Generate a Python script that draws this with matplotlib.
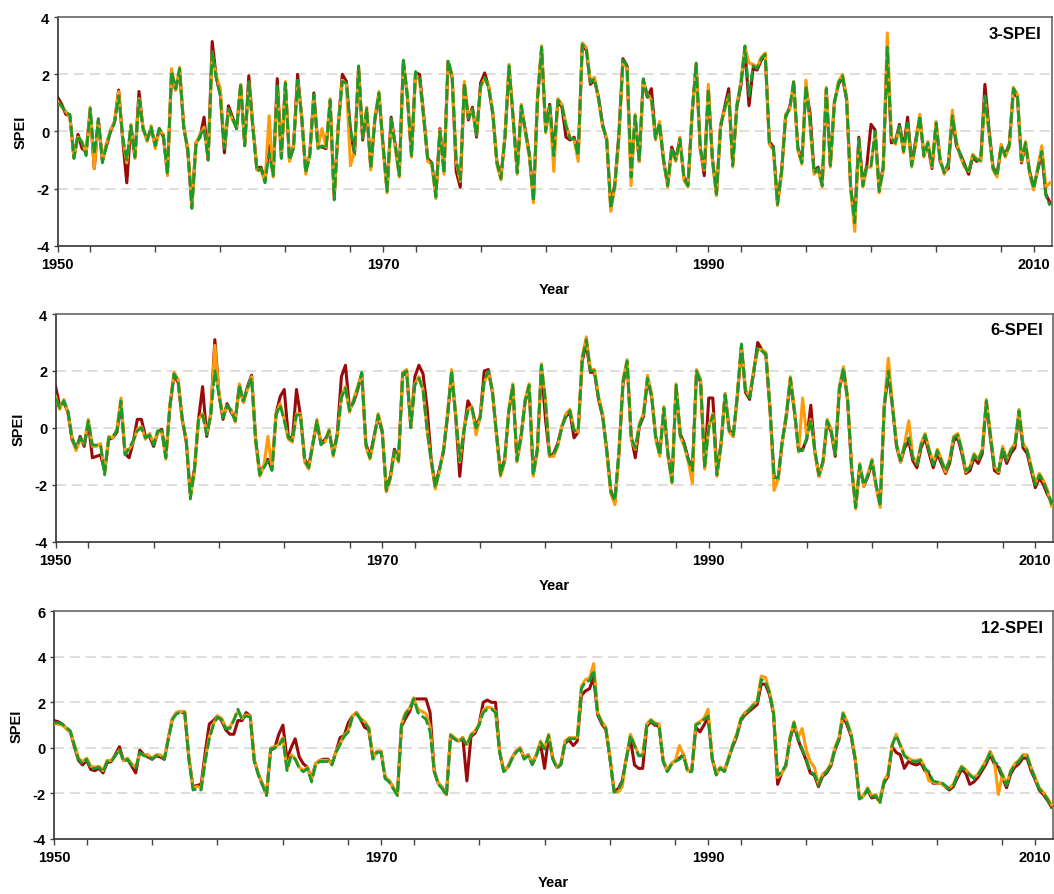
import numpy as np
import matplotlib
matplotlib.use("Agg")
import matplotlib.pyplot as plt
from matplotlib.ticker import MultipleLocator

plt.rcParams['font.family'] = ['Liberation Sans', 'DejaVu Sans']
plt.rcParams['axes.unicode_minus'] = False

# time axis: quarterly steps from 1950.0 to 2011.0
years = [1950 + 0.25 * i for i in range(245)]

# ---------- 3-SPEI ----------
spei3_green = [
 1.0,0.9,0.65,0.6,-0.95,-0.15,-0.4,-0.85,0.8,-0.8,
 0.45,-1.1,-0.5,0.0,0.3,1.25,-0.2,-1.0,0.2,-0.9,
 1.1,0.1,-0.3,0.15,-0.5,0.1,-0.15,-1.5,2.1,1.5,
 2.2,0.1,-0.6,-2.7,-0.5,-0.15,0.1,-1.0,2.8,1.85,
 1.25,-0.6,0.8,0.45,0.1,1.7,-0.5,1.75,0.1,-1.4,
 -1.3,-1.8,-0.75,-1.55,1.6,-0.95,1.7,-1.0,-0.6,1.8,
 0.55,-1.45,-0.85,1.3,-0.6,-0.5,-0.6,1.1,-2.4,0.2,
 1.75,1.7,0.1,-0.75,2.3,-0.25,0.8,-1.3,0.45,1.35,
 -0.5,-2.1,0.45,-0.5,-1.55,2.5,1.25,-0.85,2.1,1.85,
 0.45,-1.0,-1.1,-2.3,0.0,-1.45,2.5,1.95,-1.0,-1.7,
 1.7,0.45,0.8,-0.15,1.6,1.9,1.5,0.65,-1.1,-1.65,
 -0.15,2.3,0.45,-1.45,0.9,0.0,-0.85,-2.45,1.2,2.95,
 0.0,0.9,-0.85,1.1,0.9,0.2,-0.25,-0.25,-0.85,3.05,
 2.9,1.7,1.85,1.15,0.2,-0.25,-2.7,-1.9,-0.2,2.5,
 2.3,-1.6,0.55,-1.0,1.85,1.25,1.15,-0.25,0.3,-1.0,
 -1.9,-0.6,-1.0,-0.25,-1.65,-1.9,0.65,2.4,-0.6,-1.3,
 1.5,-1.0,-2.2,0.2,0.8,1.3,-1.2,0.9,1.7,3.0,
 1.25,2.3,2.2,2.55,2.7,-0.4,-0.6,-2.55,-1.45,0.55,
 0.8,1.8,-0.6,-1.1,1.6,0.3,-1.45,-1.3,-1.9,1.5,
 -1.2,1.0,1.7,1.95,1.15,-2.0,-3.2,-0.25,-1.9,-1.2,
 -1.2,0.0,-2.1,-1.3,2.95,-0.25,-0.4,0.2,-0.7,0.3,
 -1.2,-0.4,0.55,-0.85,-0.4,-1.2,0.3,-1.0,-1.45,-1.1,
 0.55,-0.4,-0.85,-1.2,-1.45,-0.85,-1.0,-1.0,1.25,0.0,
 -1.3,-1.55,-0.5,-0.85,-0.5,1.5,1.25,-1.0,-0.4,-1.45,
 -2.0,-1.3,-0.7,-2.25,-2.6]
spei3_red = [
 1.2,0.95,0.6,0.55,-0.9,-0.1,-0.6,-0.7,0.7,-1.3,
 0.4,-1.0,-0.5,0.0,0.35,1.45,-0.3,-1.8,0.2,-0.9,
 1.4,0.1,-0.3,0.1,-0.5,0.1,-0.2,-1.45,2.0,1.45,
 2.1,0.2,-0.7,-2.6,-0.4,-0.2,0.5,-1.0,3.15,1.9,
 1.3,-0.75,0.9,0.5,0.1,1.6,-0.5,1.95,0.2,-1.3,
 -1.25,-1.7,-0.5,-1.5,1.85,-0.9,1.65,-1.0,-0.5,2.0,
 0.5,-1.4,-0.8,1.35,-0.5,-0.55,-0.6,1.05,-2.3,0.2,
 2.0,1.75,0.0,-0.8,2.25,-0.3,0.7,-1.25,0.4,1.3,
 -0.45,-2.05,0.5,-0.45,-1.5,2.45,1.2,-0.8,2.05,2.0,
 0.6,-0.95,-1.1,-2.2,0.1,-1.4,2.45,1.9,-1.4,-1.95,
 1.65,0.4,0.85,-0.2,1.7,2.05,1.55,0.6,-1.05,-1.6,
 -0.2,2.25,0.5,-1.4,0.85,0.05,-0.8,-2.4,1.15,2.9,
 0.1,0.95,-0.8,1.05,0.85,-0.2,-0.3,-0.2,-0.8,3.0,
 2.85,1.65,1.8,1.2,0.25,-0.3,-2.6,-1.85,-0.1,2.55,
 2.3,-1.55,0.5,-1.05,1.8,1.2,1.5,-0.2,0.25,-1.05,
 -1.85,-0.55,-0.95,-0.3,-1.6,-1.85,0.6,2.35,-0.55,-1.55,
 1.45,-0.95,-2.2,0.15,0.85,1.5,-1.15,0.85,1.6,2.9,
 0.9,2.2,2.15,2.5,2.65,-0.35,-0.55,-2.5,-1.4,0.5,
 0.85,1.6,-0.55,-1.05,1.55,0.65,-1.4,-1.25,-1.85,1.45,
 -1.15,1.05,1.65,1.9,1.1,-1.95,-3.1,-0.2,-1.85,-1.15,
 0.25,0.05,-2.0,-1.25,2.9,-0.4,-0.35,0.25,-0.6,0.5,
 -1.15,-0.3,0.5,-0.8,-0.5,-1.3,0.25,-1.05,-1.4,-1.3,
 0.5,-0.5,-0.8,-1.15,-1.5,-0.9,-1.05,-0.95,1.65,0.1,
 -1.25,-1.5,-0.55,-0.8,-0.45,1.4,1.2,-1.1,-0.45,-1.4,
 -1.95,-1.35,-0.75,-2.2,-2.5]
spei3_orange = [
 1.05,0.85,0.7,0.5,-0.9,-0.2,-0.35,-0.8,0.85,-1.3,
 0.4,-1.0,-0.4,0.05,0.35,1.4,-0.25,-1.1,0.25,-0.95,
 1.15,0.15,-0.35,0.2,-0.6,0.05,-0.1,-1.55,2.2,1.45,
 2.25,0.15,-0.55,-2.65,-0.45,-0.1,0.15,-0.95,2.7,1.95,
 1.5,-0.55,0.75,0.4,0.15,1.65,-0.45,1.7,0.15,-1.35,
 -1.35,-1.75,0.55,-1.6,1.55,-0.9,1.75,-1.05,-0.55,1.75,
 0.6,-1.5,-0.8,1.25,-0.55,0.1,-0.55,1.15,-2.35,0.25,
 1.8,1.65,-1.2,-0.7,2.25,-0.2,0.85,-1.35,0.5,1.4,
 -0.55,-2.15,0.4,-0.55,-1.6,2.45,1.3,-0.9,2.0,1.8,
 0.5,-1.05,-1.15,-2.35,0.05,-1.5,2.45,2.0,-1.05,-1.75,
 1.75,0.5,0.75,-0.1,1.55,1.85,1.6,0.7,-1.15,-1.7,
 -0.1,2.35,0.4,-1.5,0.95,-0.05,-0.9,-2.5,1.25,3.0,
 -0.05,0.85,-1.4,1.15,0.95,0.25,-0.2,-0.3,-1.05,3.1,
 2.95,1.75,1.9,1.1,0.15,-0.2,-2.8,-1.95,-0.25,2.45,
 2.2,-1.9,0.6,-1.05,1.8,1.3,1.1,-0.3,0.35,-0.95,
 -1.95,-0.65,-1.05,-0.2,-1.7,-1.95,0.7,2.3,-0.65,-1.35,
 1.65,-1.05,-2.25,0.25,0.75,1.25,-1.25,0.95,1.75,2.95,
 2.4,2.35,2.25,2.6,2.75,-0.45,-0.65,-2.6,-1.5,0.6,
 0.75,1.75,-0.65,-1.15,1.8,0.25,-1.5,-1.35,-1.95,1.55,
 -1.25,0.95,1.75,2.0,1.2,-2.05,-3.5,-0.3,-1.95,-1.25,
 -1.25,-0.05,-2.15,-1.35,3.45,-0.2,-0.45,0.15,-0.75,0.25,
 -1.25,-0.45,0.6,-0.9,-0.35,-1.25,0.35,-0.95,-1.5,-1.15,
 0.75,-0.35,-0.9,-1.25,-1.4,-0.8,-0.95,-1.05,1.2,-0.05,
 -1.35,-1.6,-0.45,-0.9,-0.55,1.55,1.3,-1.05,-0.35,-1.5,
 -2.05,-1.25,-0.5,-1.95,-1.8]

# ---------- 6-SPEI ----------
spei6_green = [
 1.05,0.7,0.95,0.6,-0.35,-0.7,-0.35,-0.6,0.25,-0.6,
 -0.6,-0.6,-1.65,-0.35,-0.3,-0.1,0.95,-0.95,-0.7,-0.45,
 -0.1,0.0,-0.35,-0.25,-0.6,-0.1,-0.1,-1.05,0.8,1.9,
 1.65,0.35,-0.45,-2.5,-1.5,0.35,0.45,-0.25,0.45,2.0,
 1.15,0.35,0.8,0.6,0.25,1.5,0.95,1.4,1.75,-0.45,
 -1.65,-1.4,-1.15,-1.5,0.45,0.8,0.25,-0.35,-0.45,0.45,
 0.45,-1.15,-1.4,-0.6,0.25,-0.6,-0.45,-0.1,-0.95,-0.25,
 1.05,1.4,0.6,0.95,1.4,1.95,-0.6,-1.05,-0.35,0.45,
 -0.1,-2.2,-1.75,-0.8,-1.15,1.9,2.0,0.0,1.5,1.75,
 1.3,-0.1,-1.15,-2.1,-1.5,-0.8,0.45,2.0,0.45,-1.15,
 -0.1,0.6,0.7,0.0,0.35,1.65,2.0,1.3,-0.25,-1.65,
 -1.15,0.6,1.5,-1.15,-0.35,0.95,1.5,-1.65,-0.8,2.2,
 0.95,-0.95,-0.95,-0.6,0.0,0.45,0.6,-0.1,-0.1,2.45,
 3.1,2.0,2.0,1.05,0.45,-0.8,-2.25,-2.55,-0.8,1.65,
 2.35,-0.35,-0.7,0.1,0.45,1.75,1.15,-0.35,-0.95,0.7,
 -0.95,-1.9,1.5,-0.25,-0.6,-1.15,-1.5,2.0,1.65,-1.4,
 0.0,0.45,-1.65,-0.6,1.15,-0.1,-0.25,1.15,2.95,1.3,
 1.05,2.0,2.8,2.7,2.6,0.7,-1.75,-1.75,-0.45,0.45,
 1.75,0.6,-0.8,-0.8,-0.35,0.25,-0.8,-1.65,-1.15,0.25,
 -0.1,-0.95,1.4,2.1,1.05,-1.4,-2.8,-1.3,-2.0,-1.65,
 -1.15,-2.0,-2.75,0.8,2.0,0.8,-0.6,-1.15,-0.6,-0.35,
 -1.05,-1.3,-0.6,-0.25,-0.8,-1.3,-0.8,-1.15,-1.5,-1.15,
 -0.35,-0.25,-0.8,-1.5,-1.4,-0.95,-1.15,-0.8,0.95,-0.25,
 -1.4,-1.5,-0.7,-1.15,-0.8,-0.6,0.6,-0.6,-0.8,-1.4,
 -2.0,-1.65,-1.9,-2.25,-2.7]
spei6_red = [
 1.45,0.75,0.9,0.55,-0.4,-0.75,-0.3,-0.65,0.2,-1.05,
 -1.0,-0.95,-1.5,-0.4,-0.35,-0.15,0.85,-0.9,-1.05,-0.5,
 0.3,0.3,-0.3,-0.3,-0.65,-0.15,-0.05,-1.0,0.75,1.85,
 1.6,0.3,-0.5,-2.3,-1.45,0.3,1.45,-0.3,0.5,3.1,
 1.2,0.3,0.85,0.55,0.3,1.45,0.9,1.45,1.85,-0.4,
 -1.6,-1.35,-1.1,-1.45,0.5,1.1,1.35,-0.3,-0.4,1.35,
 0.4,-1.1,-1.35,-0.55,0.2,-0.55,-0.4,-0.15,-0.9,-0.2,
 1.8,2.2,0.65,0.9,1.35,1.9,-0.55,-1.0,-0.3,0.4,
 -0.15,-2.15,-1.7,-0.75,-1.1,1.85,1.95,0.05,1.8,2.2,
 1.9,0.7,-1.1,-2.05,-1.45,-0.85,0.4,1.95,0.4,-1.7,
 -0.15,0.95,0.65,0.05,0.4,2.0,2.05,1.25,-0.2,-1.6,
 -1.1,0.55,1.45,-1.1,-0.3,0.9,1.45,-1.6,-0.75,2.15,
 0.3,-1.0,-0.9,-0.55,0.05,0.4,0.55,-0.35,-0.15,2.35,
 2.95,1.95,1.95,1.0,0.4,-0.75,-2.2,-2.6,-0.9,1.55,
 2.3,-0.3,-1.05,0.05,0.4,1.7,1.1,-0.3,-0.9,0.65,
 -0.9,-1.85,1.45,-0.2,-0.55,-1.1,-1.45,1.95,1.6,-1.35,
 1.05,1.05,-1.6,-0.55,1.2,-0.05,-0.3,1.1,2.85,1.25,
 1.0,1.95,3.0,2.75,2.55,0.65,-1.7,-1.8,-0.5,0.4,
 1.7,0.55,-0.75,-0.75,-0.4,0.8,-0.85,-1.7,-1.2,0.2,
 -0.15,-1.0,1.35,2.05,1.0,-1.45,-2.75,-1.35,-2.05,-1.7,
 -1.2,-2.05,-2.7,0.75,1.95,0.75,-0.65,-1.2,-0.7,-0.45,
 -1.15,-1.4,-0.7,-0.35,-0.9,-1.4,-0.9,-1.25,-1.6,-1.25,
 -0.45,-0.35,-0.9,-1.6,-1.5,-1.05,-1.25,-0.9,0.9,-0.35,
 -1.5,-1.6,-0.8,-1.25,-0.9,-0.7,0.5,-0.7,-0.9,-1.5,
 -2.1,-1.75,-2.0,-2.35,-2.6]
spei6_orange = [
 1.1,0.65,1.0,0.55,-0.3,-0.8,-0.4,-0.55,0.3,-0.65,
 -0.65,-0.55,-1.6,-0.3,-0.35,-0.05,1.05,-0.9,-0.75,-0.5,
 -0.05,0.05,-0.4,-0.2,-0.55,-0.15,-0.15,-1.1,0.85,1.95,
 1.7,0.3,-0.4,-2.45,-1.55,0.3,0.5,-0.2,0.5,2.9,
 1.25,0.4,0.75,0.65,0.2,1.55,0.9,1.35,1.8,-0.5,
 -1.7,-1.35,-0.3,-1.45,0.5,0.85,0.3,-0.4,-0.5,0.5,
 0.5,-1.2,-1.45,-0.55,0.3,-0.55,-0.5,-0.05,-1.0,-0.3,
 1.1,1.45,0.55,1.0,1.45,1.9,-0.65,-1.1,-0.4,0.5,
 -0.05,-2.25,-1.8,-0.85,-1.2,1.95,2.05,0.05,1.55,1.8,
 1.35,-0.05,-1.2,-2.15,-1.55,-0.75,0.5,2.05,0.5,-1.2,
 -0.05,0.65,0.75,-0.25,0.4,1.6,1.95,1.35,-0.3,-1.7,
 -1.2,0.65,1.55,-1.2,-0.4,1.0,1.55,-1.7,-0.85,2.25,
 1.0,-1.0,-1.0,-0.65,0.05,0.5,0.65,-0.05,-0.15,2.5,
 3.2,2.05,2.05,1.1,0.5,-0.85,-2.3,-2.7,-0.85,1.7,
 2.4,-0.4,-0.75,0.15,0.5,1.85,1.2,-0.4,-1.0,0.75,
 -1.0,-1.95,1.55,-0.3,-0.65,-1.2,-1.95,2.05,1.7,-1.45,
 0.05,0.5,-1.7,-0.65,1.2,-0.15,-0.3,1.2,2.9,1.35,
 1.1,2.05,2.75,2.75,2.65,0.75,-2.2,-1.8,-0.5,0.5,
 1.8,0.65,-0.85,1.05,-0.3,0.3,-0.85,-1.7,-1.2,0.3,
 -0.05,-0.9,1.45,2.15,1.1,-1.35,-2.85,-1.25,-2.05,-1.6,
 -1.1,-2.05,-2.8,0.85,2.45,0.85,-0.55,-1.2,-0.55,0.25,
 -1.0,-1.25,-0.55,-0.2,-0.75,-1.25,-0.75,-1.1,-1.55,-1.1,
 -0.3,-0.2,-0.75,-1.55,-1.35,-0.9,-1.1,-0.75,1.0,-0.2,
 -1.35,-1.55,-0.65,-1.1,-0.75,-0.55,0.65,-0.55,-0.75,-1.35,
 -1.95,-1.6,-1.85,-2.2,-2.75]

# ---------- 12-SPEI ----------
spei12_green = [
 1.1,1.1,1.05,0.9,0.75,0.1,-0.5,-0.7,-0.5,-0.9,
 -0.9,-0.85,-1.05,-0.6,-0.6,-0.35,-0.05,-0.6,-0.5,-0.75,
 -0.9,-0.2,-0.35,-0.35,-0.5,-0.35,-0.35,-0.5,0.4,1.25,
 1.5,1.55,1.55,-0.5,-1.85,-1.8,-1.85,-0.6,0.4,1.0,
 1.35,1.25,0.85,0.85,1.2,1.7,1.25,1.4,1.35,-0.6,
 -1.2,-1.65,-2.1,-0.05,0.0,0.1,0.4,-1.0,-0.35,-0.5,
 -0.9,-1.05,-0.9,-1.5,-0.75,-0.6,-0.6,-0.6,-0.75,-0.2,
 0.15,0.5,0.7,1.35,1.5,1.25,1.1,0.85,-0.5,-0.2,
 -0.2,-1.35,-1.5,-1.8,-2.1,1.0,1.5,1.7,2.15,1.55,
 1.4,1.25,0.7,-1.05,-1.6,-1.8,-2.1,0.55,0.4,0.25,
 0.4,0.1,0.55,0.7,1.0,1.55,1.7,1.7,1.55,-0.2,
 -1.05,-0.9,-0.5,-0.2,-0.05,-0.5,-0.35,-0.75,-0.35,0.25,
 -0.05,0.55,-0.5,-0.9,-0.75,0.25,0.4,0.4,0.4,2.6,
 2.9,2.95,3.4,1.5,1.1,0.85,-0.5,-1.95,-1.85,-1.5,
 -0.5,0.55,0.1,-0.35,-0.35,1.0,1.2,1.05,1.0,-0.6,
 -1.05,-0.75,-0.6,-0.5,-0.35,-1.05,-1.05,1.0,1.1,1.25,
 1.4,-0.5,-1.2,-0.9,-1.05,-0.5,0.1,0.55,1.25,1.5,
 1.65,1.85,2.0,3.0,2.9,2.45,1.55,-1.2,-1.05,-0.75,
 0.4,1.1,0.4,-0.05,-0.5,-1.05,-1.15,-1.65,-1.2,-1.05,
 -0.75,-0.05,0.4,1.5,1.1,0.55,-0.5,-2.25,-2.15,-1.8,
 -2.15,-2.1,-2.45,-1.5,-1.2,0.1,0.55,0.1,-0.35,-0.5,
 -0.6,-0.6,-0.55,-0.9,-1.05,-1.45,-1.5,-1.5,-1.65,-1.8,
 -1.65,-1.2,-0.85,-1.0,-1.2,-1.35,-1.2,-0.9,-0.6,-0.2,
 -0.6,-0.75,-1.2,-1.65,-1.05,-0.75,-0.6,-0.35,-0.35,-0.9,
 -1.35,-1.8,-2.0,-2.25,-2.65]
spei12_red = [
 1.2,1.15,1.05,0.85,0.7,0.05,-0.55,-0.75,-0.55,-0.95,
 -1.0,-0.9,-1.1,-0.65,-0.6,-0.3,0.05,-0.55,-0.5,-0.8,
 -1.1,-0.1,-0.3,-0.4,-0.5,-0.35,-0.4,-0.5,0.45,1.3,
 1.55,1.6,1.5,-0.45,-1.7,-1.65,-1.6,-0.2,1.05,1.2,
 1.4,1.2,0.8,0.6,0.6,1.2,1.2,1.55,1.4,-0.55,
 -1.15,-1.6,-2.0,-0.1,0.0,0.6,1.0,-0.5,0.0,0.4,
 -0.4,-0.7,-0.85,-1.35,-0.7,-0.55,-0.5,-0.5,-0.7,-0.15,
 0.45,0.55,1.1,1.4,1.55,1.25,0.9,0.8,-0.45,-0.15,
 -0.15,-1.3,-1.45,-1.75,-2.05,0.95,1.3,1.6,2.15,2.15,
 2.15,2.15,1.55,-1.0,-1.55,-1.75,-2.05,0.5,0.4,0.3,
 0.45,-1.45,0.5,0.65,1.05,2.0,2.1,2.0,2.0,-0.15,
 -1.0,-0.85,-0.45,-0.15,0.0,-0.45,-0.3,-0.7,-0.3,0.2,
 -0.9,0.5,-0.45,-0.85,-0.7,0.2,0.35,0.1,0.3,2.3,
 2.5,2.6,3.1,1.45,1.05,0.8,-0.45,-1.9,-1.8,-1.45,
 -0.45,0.4,-0.75,-0.9,-0.9,0.95,1.15,1.0,0.95,-0.55,
 -1.0,-0.7,-0.55,-0.45,-0.3,-1.0,-1.0,0.9,0.7,1.0,
 1.35,-0.45,-1.15,-0.85,-1.0,-0.45,0.05,0.5,1.2,1.45,
 1.6,1.75,1.9,2.8,2.8,2.35,1.5,-1.6,-1.1,-0.8,
 0.35,1.0,0.35,-0.1,-0.55,-1.1,-1.2,-1.7,-1.25,-1.1,
 -0.8,-0.1,0.35,1.4,1.0,0.5,-0.55,-2.2,-2.1,-1.85,
 -2.2,-2.15,-2.3,-1.55,-1.25,0.05,-0.2,-0.3,-0.9,-0.6,
 -0.7,-0.75,-0.65,-1.0,-1.15,-1.55,-1.55,-1.55,-1.7,-1.85,
 -1.7,-1.3,-0.95,-1.1,-1.6,-1.5,-1.3,-1.0,-0.7,-0.3,
 -0.7,-0.85,-1.3,-1.75,-1.15,-0.85,-0.7,-0.45,-0.45,-1.0,
 -1.4,-1.85,-2.05,-2.3,-2.6]
spei12_orange = [
 1.05,1.05,1.0,0.85,0.7,0.15,-0.45,-0.6,-0.45,-0.8,
 -0.85,-0.8,-1.0,-0.55,-0.55,-0.35,-0.1,-0.55,-0.45,-0.7,
 -0.85,-0.25,-0.3,-0.3,-0.45,-0.3,-0.3,-0.45,0.45,1.3,
 1.55,1.6,1.6,-0.45,-1.75,-1.7,-1.75,-0.5,0.5,1.05,
 1.4,1.3,0.9,0.9,1.25,1.6,1.3,1.45,1.4,-0.55,
 -1.15,-1.6,-2.05,0.0,0.05,0.15,0.45,-0.95,-0.3,-0.45,
 -0.85,-1.0,-0.85,-1.4,-0.7,-0.55,-0.55,-0.55,-0.7,-0.15,
 0.2,0.55,0.75,1.4,1.55,1.3,1.15,0.9,-0.45,-0.15,
 -0.15,-1.3,-1.45,-1.75,-2.05,1.05,1.55,1.75,2.2,1.7,
 1.6,1.5,0.9,-1.0,-1.55,-1.75,-2.05,0.6,0.45,0.3,
 0.45,0.15,0.6,0.75,1.05,1.65,1.8,1.75,1.6,-0.15,
 -1.0,-0.85,-0.45,-0.15,0.0,-0.45,-0.3,-0.7,-0.3,0.3,
 0.0,0.6,-0.45,-0.85,-0.7,0.3,0.45,0.45,0.45,2.7,
 3.0,3.05,3.7,1.55,1.15,0.9,-0.45,-1.9,-1.95,-1.7,
 -0.45,0.6,0.15,-0.3,-0.3,1.05,1.25,1.1,1.05,-0.55,
 -1.0,-0.7,-0.55,0.1,-0.3,-1.0,-1.0,1.05,1.15,1.3,
 1.7,-0.45,-1.15,-0.85,-1.0,-0.45,0.15,0.6,1.3,1.55,
 1.7,1.9,2.05,3.15,3.1,2.5,1.6,-1.3,-1.1,-0.8,
 0.45,1.15,0.45,0.85,-0.1,-0.6,-0.85,-1.6,-1.15,-1.0,
 -0.7,0.0,0.45,1.55,1.15,0.6,-0.45,-2.2,-2.1,-1.75,
 -2.1,-2.05,-2.4,-1.45,-1.15,0.15,0.6,0.15,-0.3,-0.45,
 -0.55,-0.55,-0.5,-0.85,-1.45,-1.5,-1.55,-1.55,-1.7,-1.75,
 -1.6,-1.15,-0.8,-0.95,-1.15,-1.3,-1.15,-0.85,-0.55,-0.15,
 -0.55,-2.05,-1.15,-1.6,-1.0,-0.7,-0.55,-0.3,-0.3,-0.85,
 -1.3,-1.75,-1.95,-2.2,-2.5]

panels = [
    ("3-SPEI", spei3_red, spei3_orange, spei3_green, (-4, 4), [-4, -2, 0, 2, 4]),
    ("6-SPEI", spei6_red, spei6_orange, spei6_green, (-4, 4), [-4, -2, 0, 2, 4]),
    ("12-SPEI", spei12_red, spei12_orange, spei12_green, (-4, 6), [-4, -2, 0, 2, 4, 6]),
]
rects = [
    [0.0547, 0.7244, 0.9430, 0.2552],
    [0.0528, 0.3936, 0.9465, 0.2544],
    [0.0512, 0.0615, 0.9480, 0.2544],
]
xticks_major = [1950, 1970, 1990, 2010]

fig = plt.figure(figsize=(10.54, 8.95), dpi=100)
for (title, red, orange, green, ylim, yt), rect in zip(panels, rects):
    ax = fig.add_axes(rect)
    for yv in yt[1:-1]:
        ax.axhline(yv, color="#d9d9d3", lw=1.2, ls=(0, (6, 3.5)), zorder=0)
    ax.plot(years, red, color="#9b0a0a", lw=2.2, zorder=2)
    ax.plot(years, orange, color="#ff9a0a", lw=2.2, zorder=3)
    ax.plot(years, green, color="#1a9a2a", lw=2.0, ls=(0, (4, 1.2)), zorder=4)
    ax.set_xlim(1950, 2011.1)
    ax.set_ylim(*ylim)
    ax.set_xticks(xticks_major)
    ax.xaxis.set_minor_locator(MultipleLocator(4))
    ax.set_yticks(yt)
    ax.tick_params(axis="both", which="both", direction="out", color="#444444",
                   labelsize=10.5, width=1.0)
    ax.tick_params(axis="x", which="major", length=4, pad=4)
    ax.tick_params(axis="x", which="minor", length=4)
    ax.tick_params(axis="y", which="major", length=3, pad=3)
    for lab in ax.get_xticklabels() + ax.get_yticklabels():
        lab.set_fontweight("bold")
    for s in ["top", "right"]:
        ax.spines[s].set_color("#666666")
        ax.spines[s].set_linewidth(1.2)
    for s in ["left", "bottom"]:
        ax.spines[s].set_color("#333333")
        ax.spines[s].set_linewidth(1.2)
    ax.set_xlabel("Year", fontsize=10.5, fontweight="bold", labelpad=8)
    ax.set_ylabel("SPEI", fontsize=10.5, fontweight="bold", labelpad=6)
    ax.text(0.99, 0.93, title, transform=ax.transAxes, ha="right", va="center",
            fontsize=12, fontweight="bold")

fig.savefig("out.png", dpi=100)
